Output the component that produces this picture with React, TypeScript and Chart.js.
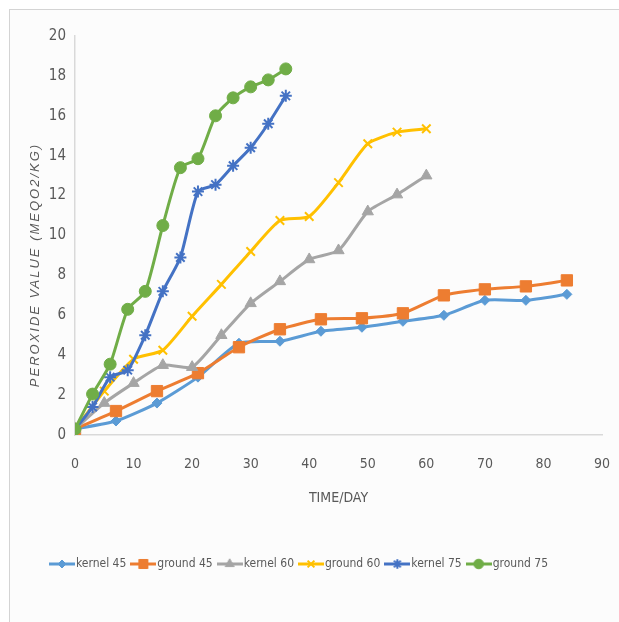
import React, { useEffect, useRef } from "react";
import { Chart, registerables } from "chart.js";
import { drawPoint } from "chart.js/helpers";

Chart.register(...registerables);

const days45 = [0, 7, 14, 21, 28, 35, 42, 49, 56, 63, 70, 77, 84];
const days60 = [0, 5, 10, 15, 20, 25, 30, 35, 40, 45, 50, 55, 60];
const days75 = [0, 3, 6, 9, 12, 15, 18, 21, 24, 27, 30, 33, 36];

const kernel45 = [0.3, 0.7, 1.6, 2.9, 4.6, 4.7, 5.2, 5.4, 5.7, 6.0, 6.75, 6.75, 7.05];
const ground45 = [0.3, 1.2, 2.2, 3.1, 4.4, 5.3, 5.8, 5.85, 6.1, 7.0, 7.3, 7.45, 7.75];
const kernel60 = [0.3, 1.6, 2.6, 3.5, 3.4, 5.0, 6.6, 7.7, 8.8, 9.25, 11.2, 12.05, 13.0];
const ground60 = [0.3, 2.2, 3.8, 4.25, 5.95, 7.55, 9.2, 10.75, 10.95, 12.65, 14.6, 15.18, 15.35];
const kernel75 = [0.3, 1.4, 2.9, 3.25, 5.0, 7.2, 8.9, 12.2, 12.55, 13.5, 14.4, 15.6, 17.0];
const ground75 = [0.3, 2.05, 3.55, 6.3, 7.2, 10.5, 13.4, 13.85, 16.0, 16.9, 17.45, 17.8, 18.35];

const seriesNames = ["kernel 45", "ground 45", "kernel 60", "ground 60", "kernel 75", "ground 75"];
const xTitle = "TIME/DAY";
const yTitle = "PEROXIDE VALUE (MEQO2/KG)";

const NARROW = "'DejaVu Sans Condensed', 'Liberation Sans Narrow', sans-serif";
const TEXT = "#595959";

type Style = { color: string; pointStyle: string; radius: number; borderWidth: number };

const styles: Style[] = [
  { color: "#5B9BD5", pointStyle: "rectRot", radius: 5, borderWidth: 1 },
  { color: "#ED7D31", pointStyle: "rect", radius: 8, borderWidth: 1 },
  { color: "#A5A5A5", pointStyle: "triangle", radius: 6.5, borderWidth: 1 },
  { color: "#FFC000", pointStyle: "crossRot", radius: 6, borderWidth: 2 },
  { color: "#4472C4", pointStyle: "star", radius: 6, borderWidth: 2 },
  { color: "#70AD47", pointStyle: "circle", radius: 6, borderWidth: 1 },
];

function pair(xs: number[], ys: number[]) {
  return xs.map((x, i) => ({ x, y: ys[i] }));
}

function legendIcon(s: Style): HTMLCanvasElement {
  const c = document.createElement("canvas");
  c.width = 26;
  c.height = 14;
  const ctx = c.getContext("2d")!;
  ctx.strokeStyle = s.color;
  ctx.fillStyle = s.color;
  ctx.lineWidth = 3;
  ctx.beginPath();
  ctx.moveTo(0, 7);
  ctx.lineTo(26, 7);
  ctx.stroke();
  ctx.lineWidth = s.borderWidth;
  drawPoint(ctx, { pointStyle: s.pointStyle as any, rotation: 0, radius: s.radius * 0.8, borderWidth: s.borderWidth }, 13, 7);
  return c;
}

const yTitlePlugin = {
  id: "yTitlePlugin",
  afterDraw(chart: any) {
    const ctx = chart.ctx as CanvasRenderingContext2D;
    ctx.save();
    ctx.translate(35, 265);
    ctx.rotate(-Math.PI / 2);
    ctx.font = "italic 13px 'Liberation Sans', sans-serif";
    (ctx as any).letterSpacing = "2px";
    ctx.fillStyle = TEXT;
    ctx.textAlign = "center";
    ctx.textBaseline = "middle";
    ctx.fillText(yTitle, 0, 0);
    ctx.restore();
  },
};

export default function App() {
  const ref = useRef<HTMLCanvasElement>(null);

  useEffect(() => {
    const allData = [
      pair(days45, kernel45),
      pair(days45, ground45),
      pair(days60, kernel60),
      pair(days60, ground60),
      pair(days75, kernel75),
      pair(days75, ground75),
    ];
    const icons = styles.map(legendIcon);
    const chart = new Chart(ref.current!, {
      type: "line",
      data: {
        datasets: allData.map((d, i) => ({
          label: seriesNames[i],
          data: d,
          borderColor: styles[i].color,
          backgroundColor: styles[i].color,
          pointBackgroundColor: styles[i].color,
          pointBorderColor: styles[i].color,
          pointStyle: styles[i].pointStyle as any,
          pointRadius: styles[i].radius,
          pointBorderWidth: styles[i].borderWidth,
          borderWidth: 3,
          tension: 0.2,
          fill: false,
          order: 5 - i,
        })),
      },
      options: {
        animation: false,
        responsive: false,
        layout: { padding: { left: 0, right: 17, top: 36, bottom: 42 } },
        plugins: {
          tooltip: { enabled: false },
          legend: {
            position: "bottom",
            labels: {
              usePointStyle: true,
              pointStyleWidth: 16,
              padding: 9,
              color: TEXT,
              font: { family: NARROW, size: 12 },
              generateLabels: () =>
                seriesNames.map((n, i) => ({
                  text: n,
                  fillStyle: styles[i].color,
                  strokeStyle: styles[i].color,
                  pointStyle: icons[i] as any,
                  lineWidth: 0,
                  hidden: false,
                  datasetIndex: i,
                  fontColor: TEXT,
                })),
            },
          },
        },
        scales: {
          x: {
            type: "linear",
            min: 0,
            max: 90,
            grid: {
              display: true,
              drawOnChartArea: false,
              drawTicks: true,
              tickLength: 19,
              tickColor: "rgba(0,0,0,0)",
              color: "rgba(0,0,0,0)",
            },
            border: { display: true, color: "#D9D9D9", width: 1.5 },
            ticks: { stepSize: 10, padding: 2, color: TEXT, font: { family: NARROW, size: 14 } },
            title: {
              display: true,
              text: xTitle,
              color: TEXT,
              font: { family: NARROW, size: 14 },
              padding: { top: 0, bottom: 42 },
            },
            afterFit: (s: any) => {
              s.height = 114;
            },
          },
          y: {
            type: "linear",
            min: 0,
            max: 20,
            grid: { display: false, drawTicks: false },
            border: { display: true, color: "#D9D9D9", width: 1.5 },
            ticks: { stepSize: 2, padding: 9, color: TEXT, font: { family: NARROW, size: 15 } },
            afterFit: (s: any) => {
              s.width = 75;
            },
          },
        },
      },
      plugins: [yTitlePlugin],
    });
    return () => chart.destroy();
  }, []);

  return (
    <div style={{ position: "absolute", left: 0, top: 0, width: 619, height: 622, background: "#ffffff", overflow: "hidden" }}>
      <div
        style={{
          position: "absolute",
          left: 9,
          top: 9,
          width: 619,
          height: 622,
          background: "#fcfcfc",
          borderLeft: "1px solid #d4d4d4",
          borderTop: "1px solid #d4d4d4",
        }}
      />
      <canvas ref={ref} width={619} height={622} style={{ position: "absolute", left: 0, top: 0, width: 619, height: 622 }} />
    </div>
  );
}
